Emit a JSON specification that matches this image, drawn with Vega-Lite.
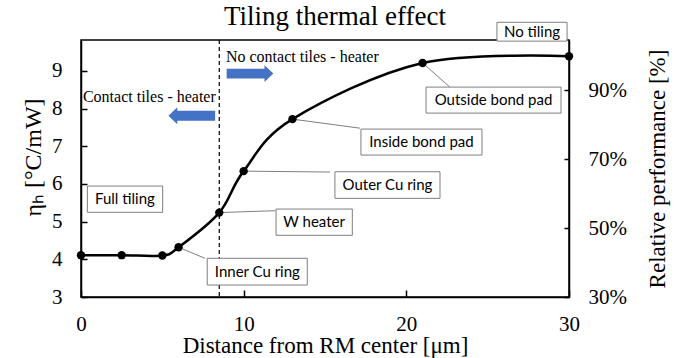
{
  "$schema": "https://vega.github.io/schema/vega-lite/v6.json",
  "width": 488,
  "height": 257,
  "autosize": {"type": "none"},
  "padding": {"left": 81, "top": 40, "right": 128, "bottom": 61},
  "background": "white",
  "config": {
    "view": {"stroke": "black", "strokeWidth": 1.5},
    "font": "Liberation Serif",
    "axis": {"grid": false, "tickColor": "black", "tickWidth": 1.5, "domainColor": "black", "domainWidth": 1.5, "labelFont": "Liberation Serif", "labelFontSize": 21, "labelColor": "black", "labelFlush": false, "titleFont": "Liberation Serif", "titleFontSize": 23, "titleFontWeight": "normal", "titleColor": "black"}
  },
  "title": {"text": "Tiling thermal effect", "font": "Liberation Serif", "fontSize": 27, "fontWeight": "normal", "color": "black", "anchor": "middle", "dx": 10, "offset": 0, "dy": 30, "baseline": "alphabetic"},
  "datasets": {
    "main": [
      {"d": 0, "eta": 4.11},
      {"d": 2.5, "eta": 4.11},
      {"d": 5, "eta": 4.1},
      {"d": 6, "eta": 4.32},
      {"d": 8.5, "eta": 5.24},
      {"d": 10, "eta": 6.34},
      {"d": 13, "eta": 7.72},
      {"d": 21, "eta": 9.21},
      {"d": 30, "eta": 9.39}
    ],
    "boxes": [
      {"label": "No tiling", "x1": 25.57, "x2": 29.88, "y1": 9.79, "y2": 10.29, "cx": 27.73, "cy": 10.04},
      {"label": "Outside bond pad", "x1": 21.21, "x2": 29.51, "y1": 8.57, "y2": 7.88, "cx": 25.36, "cy": 8.225},
      {"label": "Inside bond pad", "x1": 17.21, "x2": 24.65, "y1": 7.456, "y2": 6.767, "cx": 20.93, "cy": 7.11},
      {"label": "Outer Cu ring", "x1": 15.61, "x2": 22.07, "y1": 6.324, "y2": 5.618, "cx": 18.84, "cy": 5.97},
      {"label": "W heater", "x1": 11.99, "x2": 16.68, "y1": 5.334, "y2": 4.637, "cx": 14.33, "cy": 4.99},
      {"label": "Inner Cu ring", "x1": 7.76, "x2": 13.91, "y1": 4.027, "y2": 3.318, "cx": 10.84, "cy": 3.67},
      {"label": "Full tiling", "x1": 0.39, "x2": 5.02, "y1": 5.944, "y2": 5.247, "cx": 2.7, "cy": 5.594}
    ]
  },
  "encoding": {
    "x": {"type": "quantitative", "scale": {"domain": [0, 30], "nice": false},
      "axis": {"title": "Distance from RM center [μm]", "values": [0, 10, 20, 30], "tickSize": -7, "labelPadding": 23, "titlePadding": 0}}
  },
  "layer": [
    {
      "data": {"name": "main"},
      "mark": {"type": "line", "interpolate": "cardinal", "color": "black", "strokeWidth": 2.5},
      "encoding": {
        "x": {"field": "d", "type": "quantitative"},
        "y": {"field": "eta", "type": "quantitative", "scale": {"domain": [3, 9.82], "nice": false, "zero": false},
          "axis": {"title": "ηₕ [°C/mW]", "values": [3, 4, 5, 6, 7, 8, 9], "tickSize": -6, "labelPadding": 25, "titleFontSize": 24, "titlePadding": 6, "titleY": 117}}
      }
    },
    {
      "data": {"values": [{"d": 8.5}]},
      "mark": {"type": "rule", "color": "black", "strokeWidth": 1.2, "strokeDash": [4, 3]},
      "encoding": {
        "x": {"field": "d", "type": "quantitative"}
      }
    },
    {
      "data": {"values": [
        {"d": 21, "y1": 9.21, "x2": 22.68, "y2": 8.57},
        {"d": 13, "y1": 7.72, "x2": 17.15, "y2": 7.48},
        {"d": 10, "y1": 6.34, "x2": 15.31, "y2": 6.316},
        {"d": 8.5, "y1": 5.24, "x2": 11.95, "y2": 5.29},
        {"d": 6, "y1": 4.32, "x2": 7.62, "y2": 4.027}
      ]},
      "mark": {"type": "rule", "color": "#7f7f7f", "strokeWidth": 1},
      "encoding": {
        "x": {"field": "d", "type": "quantitative"},
        "x2": {"field": "x2"},
        "y": {"field": "y1", "type": "quantitative", "scale": {"domain": [3, 9.82], "nice": false, "zero": false}, "axis": null},
        "y2": {"field": "y2"}
      }
    },
    {
      "data": {"name": "boxes"},
      "mark": {"type": "rect", "fill": "white", "stroke": "#7f7f7f", "strokeWidth": 1},
      "encoding": {
        "x": {"field": "x1", "type": "quantitative"},
        "x2": {"field": "x2"},
        "y": {"field": "y1", "type": "quantitative", "scale": {"domain": [3, 9.82], "nice": false, "zero": false}, "axis": null},
        "y2": {"field": "y2"}
      }
    },
    {
      "data": {"name": "boxes"},
      "mark": {"type": "text", "font": "Lato", "fontSize": 15, "color": "black", "align": "center", "baseline": "middle"},
      "encoding": {
        "x": {"field": "cx", "type": "quantitative"},
        "y": {"field": "cy", "type": "quantitative", "scale": {"domain": [3, 9.82], "nice": false, "zero": false}, "axis": null},
        "text": {"field": "label"}
      }
    },
    {
      "data": {"values": [
        {"label": "No contact tiles - heater", "x": 8.91, "y": 9.233},
        {"label": "Contact tiles - heater", "x": 0.12, "y": 8.17}
      ]},
      "mark": {"type": "text", "font": "Liberation Serif", "fontSize": 16, "color": "black", "align": "left", "baseline": "alphabetic"},
      "encoding": {
        "x": {"field": "x", "type": "quantitative"},
        "y": {"field": "y", "type": "quantitative", "scale": {"domain": [3, 9.82], "nice": false, "zero": false}, "axis": null},
        "text": {"field": "label"}
      }
    },
    {
      "data": {"values": [{"x": 10.39, "y": 8.93}]},
      "mark": {"type": "point", "filled": true, "color": "#4472C4", "opacity": 1, "size": 2180, "shape": "M-1,-0.21L0.62,-0.21L0.62,-0.36L1,0L0.62,0.36L0.62,0.21L-1,0.21Z"},
      "encoding": {
        "x": {"field": "x", "type": "quantitative"},
        "y": {"field": "y", "type": "quantitative", "scale": {"domain": [3, 9.82], "nice": false, "zero": false}, "axis": null}
      }
    },
    {
      "data": {"values": [{"x": 6.81, "y": 7.81}]},
      "mark": {"type": "point", "filled": true, "color": "#4472C4", "opacity": 1, "size": 2180, "shape": "M1,-0.21L-0.62,-0.21L-0.62,-0.36L-1,0L-0.62,0.36L-0.62,0.21L1,0.21Z"},
      "encoding": {
        "x": {"field": "x", "type": "quantitative"},
        "y": {"field": "y", "type": "quantitative", "scale": {"domain": [3, 9.82], "nice": false, "zero": false}, "axis": null}
      }
    },
    {
      "data": {"name": "main"},
      "mark": {"type": "point", "filled": true, "color": "black", "opacity": 1, "size": 70},
      "encoding": {
        "x": {"field": "d", "type": "quantitative"},
        "y": {"field": "eta", "type": "quantitative", "scale": {"domain": [3, 9.82], "nice": false, "zero": false}, "axis": null}
      }
    },
    {
      "data": {"values": [{"d": 0, "perf": 30}, {"d": 30, "perf": 104.5}]},
      "mark": {"type": "point", "opacity": 0},
      "encoding": {
        "x": {"field": "d", "type": "quantitative"},
        "y": {"field": "perf", "type": "quantitative", "scale": {"domain": [30, 104.5], "nice": false, "zero": false},
          "axis": {"orient": "right", "title": "Relative performance [%]", "values": [30, 50, 70, 90], "labelExpr": "datum.value + '%'", "tickSize": -5, "labelPadding": 24, "titleAngle": -90, "titleBaseline": "top", "titlePadding": 20}}
      }
    }
  ],
  "resolve": {"scale": {"y": "independent"}}
}
